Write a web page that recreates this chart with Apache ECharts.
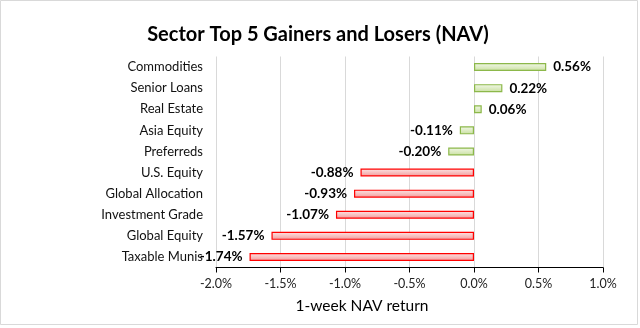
<!DOCTYPE html>
<html><head><meta charset="utf-8">
<script src="https://cdn.jsdelivr.net/npm/echarts@6/dist/echarts.min.js"></script>
<style>html,body{margin:0;padding:0;background:#fff}#c{width:640px;height:328px}</style>
</head><body><div id="c"></div>
<script>
const categories = ['Commodities','Senior Loans','Real Estate','Asia Equity','Preferreds','U.S. Equity','Global Allocation','Investment Grade','Global Equity','Taxable Munis'];
const values = [0.56, 0.22, 0.06, -0.11, -0.20, -0.88, -0.93, -1.07, -1.57, -1.74];
const groups = ['gain','gain','gain','gain','gain','lose','lose','lose','lose','lose'];
const xTicks = {min: -2, max: 1, interval: 0.5};
const FONT = 'Lato, "Open Sans", sans-serif';

const greenFill = new echarts.graphic.LinearGradient(0,0,0,1,[{offset:0,color:'#f3f8ea'},{offset:1,color:'#c9e0a0'}]);
const redFill = new echarts.graphic.LinearGradient(0,0,0,1,[{offset:0,color:'#fde6e6'},{offset:1,color:'#f29a9a'}]);

const data = values.map((v,i)=>({
  value: v,
  itemStyle: groups[i]==='gain'
    ? {color: greenFill, borderColor: '#8cb84a', borderWidth: 1.2}
    : {color: redFill, borderColor: '#ff0000', borderWidth: 1.2},
  label: {position: v >= 0 ? 'right' : 'left'}
}));

const chart = echarts.init(document.getElementById('c'), null, {renderer:'canvas'});
chart.setOption({
  animation: false,
  backgroundColor: '#fff',
  title: {
    text: 'Sector Top 5 Gainers and Losers (NAV)',
    left: 313, top: 20, textAlign: 'center',
    textStyle: {fontFamily: FONT, fontWeight: 'bold', fontSize: 20, color: '#000'}
  },
  graphic: [
    {type:'rect', shape:{x:0.5,y:0.5,width:637,height:324}, style:{fill:'none', stroke:'#d9d9d9', lineWidth:1}, silent:true},
    {type:'text', x: 0, y: 0, style:{text:'1-week NAV return', x:362, y:306, textAlign:'center', textVerticalAlign:'middle', font:'15.5px ' + FONT, fill:'#000'}}
  ],
  grid: {left: 216, right: 37, top: 56.5, bottom: 60.5},
  xAxis: {
    type: 'value', min: xTicks.min, max: xTicks.max, interval: xTicks.interval,
    axisLabel: {formatter: v => v.toFixed(1) + '%', fontFamily: FONT, fontSize: 12.5, color: '#222', margin: 10},
    axisLine: {show: true, onZero: false, lineStyle: {color: '#000', width: 1}},
    axisTick: {show: true, length: 5, lineStyle: {color: '#000'}},
    splitLine: {show: true, lineStyle: {color: '#d9d9d9', width: 1}}
  },
  yAxis: {
    type: 'category', data: categories, inverse: true,
    axisLine: {show: false}, axisTick: {show: false},
    axisLabel: {fontFamily: FONT, fontSize: 13, color: '#111', margin: 13}
  },
  series: [{
    type: 'bar', data: data, barWidth: 8,
    label: {show: true, distance: 7, formatter: p => p.value.toFixed(2) + '%', fontFamily: FONT, fontWeight: 'bold', fontSize: 13.5, color: '#000'}
  }]
});
</script></body></html>
